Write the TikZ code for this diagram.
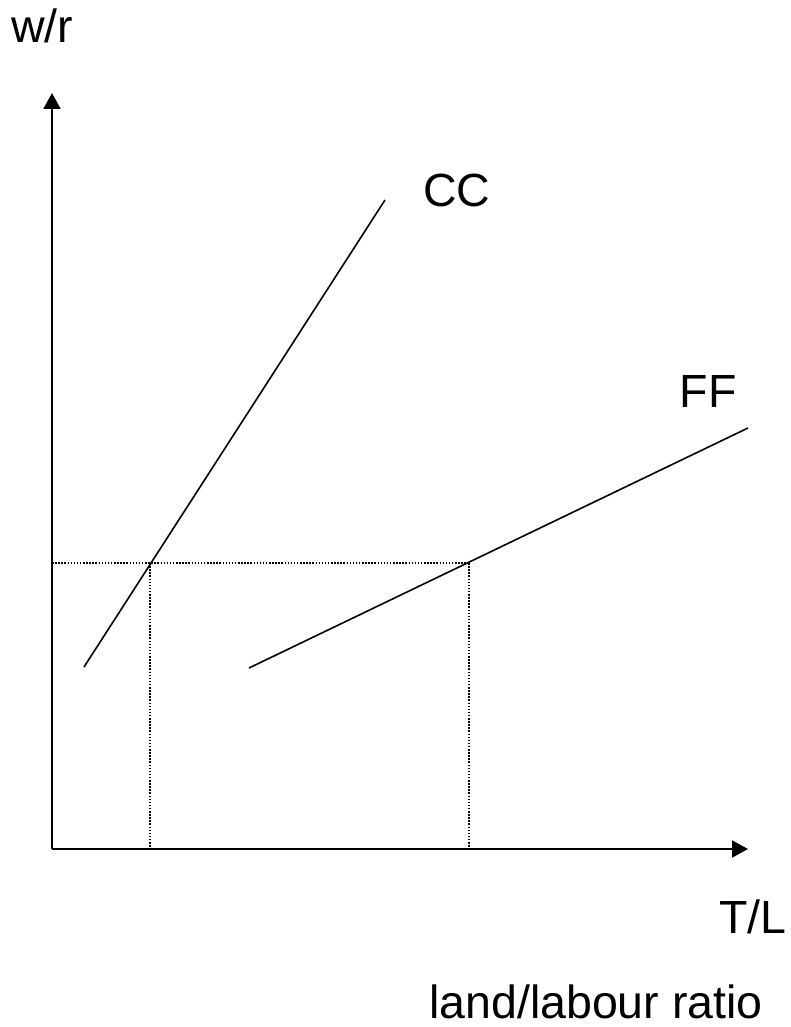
\documentclass[tikz,border=0pt]{standalone}
\usepackage{fontspec}
\setmainfont{Liberation Sans}
\usetikzlibrary{arrows.meta}
\usetikzlibrary{positioning}

\begin{document}
\begin{tikzpicture}[x=1pt, y=-1pt,
    every node/.style={inner sep=0pt, anchor=base, font=\fontsize{46.5}{52}\selectfont},
    axis/.style={line width=2pt, -{Triangle[length=16pt, width=17pt]}},
    curve/.style={line width=1.6pt},
    guide/.style={line width=1.2pt, dash pattern=on 1.5pt off 1.6pt}]
        \useasboundingbox (0,0) rectangle (790,1027);

        \coordinate (origin) at (52, 849);
        \coordinate (ytip) at (52, 93);
        \coordinate (xtip) at (748, 849);

        \coordinate (cc1) at (84, 667);
        \coordinate (cc2) at (385, 200);
        \coordinate (ff1) at (249, 668);
        \coordinate (ff2) at (748, 428);

        \coordinate (eqc) at (150, 563);
        \coordinate (eqf) at (469, 563);
        \coordinate (wr) at (52, 563);
        \coordinate (tlc) at (150, 849);
        \coordinate (tlf) at (469, 849);

        \draw[axis] (origin) -- (ytip);
        \draw[axis] (origin) -- (xtip);

        \draw[curve] (cc1) -- (cc2);
        \draw[curve] (ff1) -- (ff2);

        \draw[guide] (wr) -- (eqf);
        \draw[guide] (eqc) -- (tlc);
        \draw[guide] (eqf) -- (tlf);

        \node (ylabel) at (42, 43) {w/r};
        \node (cclabel) at (457, 207) {CC};
        \node (fflabel) at (708, 407) {FF};
        \node (xlabel) at (753, 933) {T/L};
        \node (xtext) at (596, 1018) {land/labour ratio};
      \end{tikzpicture}
\end{document}
